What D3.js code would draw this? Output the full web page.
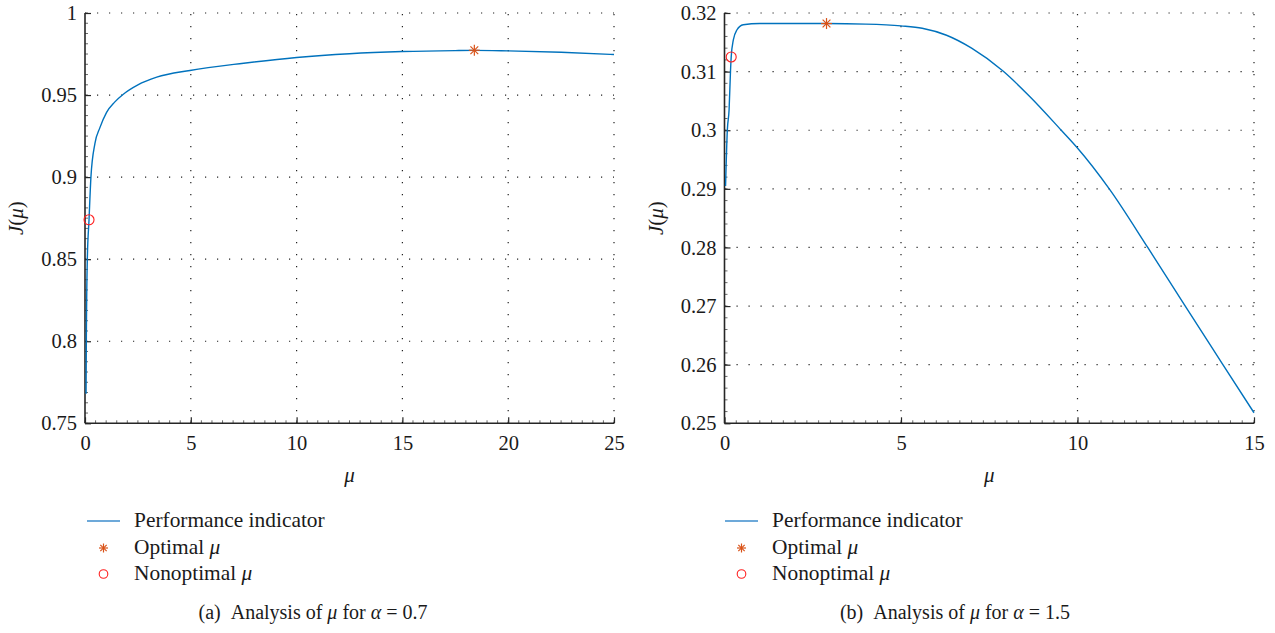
<!DOCTYPE html>
<html>
<head>
<meta charset="utf-8">
<script src="https://cdn.jsdelivr.net/npm/d3@7"></script>
<style>
  html, body { margin: 0; padding: 0; background: #fff; }
  svg { display: block; }
  text { font-family: "Liberation Serif", "Times New Roman", "DejaVu Serif", serif; fill: #1a1a1a; }
</style>
</head>
<body>
<svg id="chart" width="1275" height="633"></svg>
<script>
// ---------- data ----------
// Panel (a): alpha = 0.7
const muA = [0.05, 0.063, 0.11, 0.19, 0.28, 0.47, 0.7, 1.02, 1.4, 1.81, 2.5, 3.39, 4.96, 7.5, 10, 12.5, 15, 17.5, 18.4, 20, 22.5, 25];
const JA  = [0.768, 0.800, 0.850, 0.874, 0.900, 0.9206, 0.9300, 0.9395, 0.9457, 0.9505, 0.9562, 0.9609, 0.9650, 0.9694, 0.9729, 0.9752, 0.9765, 0.9771, 0.9772, 0.9769, 0.9761, 0.9747];
const optA = [18.4, 0.9773];
const nonA = [0.19, 0.874];
const xTicksA = [0, 5, 10, 15, 20, 25];
const yTicksA = [0.75, 0.8, 0.85, 0.9, 0.95, 1];
const yTickLabelsA = ["0.75", "0.8", "0.85", "0.9", "0.95", "1"];

// Panel (b): alpha = 1.5
const muB = [0.03, 0.08, 0.13, 0.17, 0.19, 0.25, 0.35, 0.53, 1.0, 2.0, 2.89, 4.0, 5.0, 5.6, 6.29, 7.0, 7.89, 8.64, 9.54, 9.98, 10.9, 11.99, 13.03, 14.1, 15];
const JB  = [0.2905, 0.300, 0.3035, 0.3101, 0.3125, 0.3154, 0.3171, 0.3180, 0.3182, 0.3182, 0.3182, 0.3181, 0.3178, 0.3174, 0.3162, 0.3140, 0.3101, 0.3058, 0.3000, 0.2971, 0.2900, 0.2800, 0.2702, 0.2602, 0.2518];
const optB = [2.89, 0.3182];
const nonB = [0.19, 0.3125];
const xTicksB = [0, 5, 10, 15];
const yTicksB = [0.25, 0.26, 0.27, 0.28, 0.29, 0.3, 0.31, 0.32];
const yTickLabelsB = ["0.25", "0.26", "0.27", "0.28", "0.29", "0.3", "0.31", "0.32"];

const legendLabels = ["Performance indicator", "Optimal ", "Nonoptimal "];
const captions = [["(a)", "0.7"], ["(b)", "1.5"]];

// ---------- styles ----------
const LINE = "#0072BD", STAR = "#D95319", CIRC = "#FF2020";
const svg = d3.select("#chart");

function star(g, x, y, r, color) {
  const s = g.append("g").attr("transform", `translate(${x},${y})`)
    .attr("stroke", color).attr("stroke-width", 1.2);
  [0, 45, 90, 135].forEach(a => {
    const rad = a * Math.PI / 180;
    s.append("line")
      .attr("x1", -r * Math.cos(rad)).attr("y1", -r * Math.sin(rad))
      .attr("x2", r * Math.cos(rad)).attr("y2", r * Math.sin(rad));
  });
}

function panel(cfg) {
  const { x0, x1, y0, y1, xDomain, yDomain, xTicks, yTicks, yLabels, mu, J, opt, non,
          xMinor, yMinor, capIdx, capX, legX } = cfg;
  const x = d3.scaleLinear().domain(xDomain).range([x0, x1]);
  const y = d3.scaleLinear().domain(yDomain).range([y1, y0]);
  const g = svg.append("g");

  // grid
  const grid = g.append("g").attr("stroke", "#222").attr("stroke-width", 1.2)
    .attr("stroke-dasharray", "1.2,10.8");
  xTicks.filter(t => t !== xDomain[0]).forEach(t => {
    grid.append("line").attr("x1", x(t)).attr("x2", x(t)).attr("y1", y1).attr("y2", y0);
  });
  yTicks.filter(t => t !== yDomain[0]).forEach(t => {
    grid.append("line").attr("y1", y(t)).attr("y2", y(t)).attr("x1", x0).attr("x2", x1);
  });

  // minor ticks (inward)
  const minor = g.append("g").attr("stroke", "#444").attr("stroke-width", 0.8);
  d3.range(xDomain[0], xDomain[1] + 1e-9, xMinor).forEach(t => {
    minor.append("line").attr("x1", x(t)).attr("x2", x(t)).attr("y1", y1).attr("y2", y1 - 3);
  });
  d3.range(yDomain[0], yDomain[1] + 1e-9, yMinor).forEach(t => {
    minor.append("line").attr("y1", y(t)).attr("y2", y(t)).attr("x1", x0).attr("x2", x0 + 3);
  });

  // axes
  const xAxis = d3.axisBottom(x).tickValues(xTicks).tickSize(-6).tickPadding(12)
    .tickFormat(d3.format("d"));
  const yAxis = d3.axisLeft(y).tickValues(yTicks).tickSize(-6).tickPadding(8)
    .tickFormat((d, i) => yLabels[i]);
  const gx = g.append("g").attr("transform", `translate(0,${y1})`).call(xAxis);
  const gy = g.append("g").attr("transform", `translate(${x0},0)`).call(yAxis);
  [gx, gy].forEach(a => {
    a.attr("font-family", null);
    a.select(".domain").attr("stroke", "#262626").attr("stroke-width", 1.6);
    a.selectAll(".tick line").attr("stroke", "#262626").attr("stroke-width", 1.2);
    a.selectAll("text").attr("font-size", 20.5).attr("fill", "#1a1a1a");
  });
  gx.selectAll(".tick text").attr("dy", "0.71em");
  gx.select(".domain").attr("d", `M${x0},0H${x1}`);
  gy.select(".domain").attr("d", `M0,${y1}V${y0}`);

  // curve
  const line = d3.line().x((d, i) => x(mu[i])).y((d, i) => y(J[i])).curve(d3.curveMonotoneX);
  g.append("path").datum(J).attr("d", line).attr("fill", "none")
    .attr("stroke", LINE).attr("stroke-width", 1.4);

  // markers
  star(g, x(opt[0]), y(opt[1]), 5.5, STAR);
  g.append("circle").attr("cx", x(non[0])).attr("cy", y(non[1])).attr("r", 5)
    .attr("fill", "none").attr("stroke", CIRC).attr("stroke-width", 1.1);

  // axis titles
  const cx = (x0 + x1) / 2;
  const xt = g.append("text").attr("x", cx).attr("y", 482).attr("text-anchor", "middle")
    .attr("font-size", 21);
  xt.append("tspan").attr("font-style", "italic").text("μ");
  const yt = g.append("text").attr("transform", `translate(${x0 - 62},${(y0 + y1) / 2}) rotate(-90)`)
    .attr("text-anchor", "middle").attr("font-size", 21);
  yt.append("tspan").attr("font-style", "italic").text("J");
  yt.append("tspan").text("(");
  yt.append("tspan").attr("font-style", "italic").text("μ");
  yt.append("tspan").text(")");

  // legend
  const lg = g.append("g");
  const rows = [527, 554, 580];
  lg.append("line").attr("x1", legX).attr("x2", legX + 33).attr("y1", 521).attr("y2", 521)
    .attr("stroke", "#3c8ccc").attr("stroke-width", 1.6);
  star(lg, legX + 16.5, 548, 4.5, STAR);
  lg.append("circle").attr("cx", legX + 16.5).attr("cy", 574).attr("r", 4.3)
    .attr("fill", "none").attr("stroke", CIRC).attr("stroke-width", 1.1);
  legendLabels.forEach((lab, i) => {
    const t = lg.append("text").attr("x", legX + 47).attr("y", rows[i]).attr("font-size", 21.4);
    t.append("tspan").text(lab);
    if (i > 0) t.append("tspan").attr("font-style", "italic").text("μ");
  });

  // caption
  const c = captions[capIdx];
  const ct = g.append("text").attr("x", capX).attr("y", 619).attr("text-anchor", "middle")
    .attr("font-size", 20).style("white-space", "pre");
  ct.append("tspan").text(c[0] + "\u2002Analysis of ");
  ct.append("tspan").attr("font-style", "italic").text("μ");
  ct.append("tspan").text(" for ");
  ct.append("tspan").attr("font-style", "italic").text("α");
  ct.append("tspan").text(" = " + c[1]);
}

panel({ x0: 85, x1: 614, y0: 13, y1: 423.3, xDomain: [0, 25], yDomain: [0.75, 1],
        xTicks: xTicksA, yTicks: yTicksA, yLabels: yTickLabelsA, mu: muA, J: JA,
        opt: optA, non: nonA, xMinor: 0.5, yMinor: 0.00625, capIdx: 0, capX: 313, legX: 87 });
panel({ x0: 724.5, x1: 1254, y0: 13, y1: 423.3, xDomain: [0, 15], yDomain: [0.25, 0.32],
        xTicks: xTicksB, yTicks: yTicksB, yLabels: yTickLabelsB, mu: muB, J: JB,
        opt: optB, non: nonB, xMinor: 1/3, yMinor: 0.002, capIdx: 1, capX: 955, legX: 725 });
</script>
</body>
</html>
